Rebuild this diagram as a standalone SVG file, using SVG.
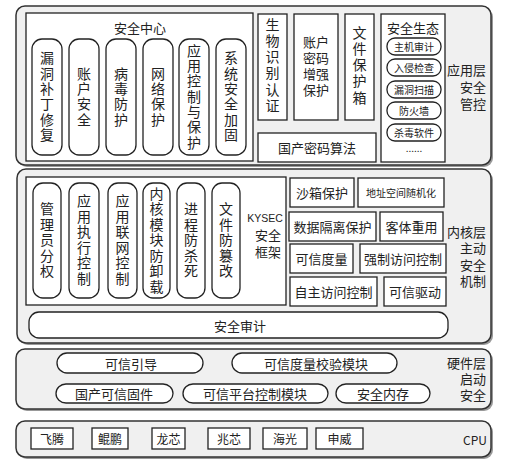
<svg xmlns="http://www.w3.org/2000/svg" width="513" height="467" viewBox="0 0 513 467">
<style>
text{font-family:"Noto Sans CJK SC","Microsoft YaHei",sans-serif;fill:#222;dominant-baseline:central}
.ml{font-family:"Liberation Sans","Noto Sans CJK SC",sans-serif}
.layer{fill:#f0f0f0;stroke:#333;stroke-width:1.5}
.shadow{fill:#999;stroke:none}
.box{fill:#fff;stroke:#222;stroke-width:1.3}
.pill{fill:#fff;stroke:#222;stroke-width:1.3}
.vt{font-size:14px;text-anchor:middle;writing-mode:vertical-rl;text-orientation:upright;letter-spacing:1.3px}
.vk{letter-spacing:1.5px}
.vb{letter-spacing:2.2px}
.t13{font-size:13px;text-anchor:middle}
.t10{font-size:10px;text-anchor:middle}
.lab{font-size:13px;text-anchor:end}
</style>
<rect width="513" height="467" fill="#fff"/>

<!-- Application layer -->
<g id="layer-app">
<rect class="shadow" x="18" y="8" width="475" height="159" rx="9"/>
<rect class="layer" x="16" y="6" width="475" height="159" rx="9"/>
<text class="lab ml" x="486" y="70">应用层</text>
<text class="lab ml" x="486" y="87">安全</text>
<text class="lab ml" x="486" y="104">管控</text>
</g>
<g id="security-center">
<rect class="box" x="26" y="13" width="227" height="148"/>
<text class="t13" x="140" y="27">安全中心</text>
</g>
<g id="n-loudong"><rect class="pill" x="32" y="39" width="30" height="116" rx="10"/><text class="vt" x="47" y="97">漏洞补丁修复</text></g>
<g id="n-zhanghu"><rect class="pill" x="69" y="39" width="30" height="116" rx="10"/><text class="vt" x="84" y="97">账户安全</text></g>
<g id="n-bingdu"><rect class="pill" x="106" y="39" width="30" height="116" rx="10"/><text class="vt" x="121" y="97">病毒防护</text></g>
<g id="n-wangluo"><rect class="pill" x="143" y="39" width="30" height="116" rx="10"/><text class="vt" x="158" y="97">网络保护</text></g>
<g id="n-yingyong"><rect class="pill" x="179" y="39" width="30" height="116" rx="10"/><text class="vt" x="194" y="97">应用控制与保护</text></g>
<g id="n-xitong"><rect class="pill" x="216" y="39" width="30" height="116" rx="10"/><text class="vt" x="231" y="97">系统安全加固</text></g>

<g id="n-shengwu"><rect class="box" x="258" y="14" width="29" height="106"/><text class="vt vb" x="272.5" y="66">生物识别认证</text></g>
<g id="n-mima"><rect class="box" x="294" y="14" width="44" height="106"/>
<text class="t13 ml" x="316" y="42">账户</text>
<text class="t13 ml" x="316" y="58">密码</text>
<text class="t13 ml" x="316" y="74">增强</text>
<text class="t13 ml" x="316" y="90">保护</text></g>
<g id="n-wenjian"><rect class="box" x="345" y="14" width="29" height="106"/><text class="vt vb" x="359.5" y="66">文件保护箱</text></g>
<g id="n-guochan-mima"><rect class="box" x="258" y="133" width="118" height="29"/>
<text class="t13" x="317" y="147.5">国产密码算法</text></g>
<g id="n-shengtai"><rect class="box" x="381" y="14" width="64" height="148"/>
<text class="t13" x="413" y="27">安全生态</text>
<rect class="pill" x="387" y="38" width="54" height="17" rx="8"/><text class="t10" x="414" y="46.5">主机审计</text>
<rect class="pill" x="387" y="59" width="54" height="17" rx="8"/><text class="t10" x="414" y="67.5">入侵检查</text>
<rect class="pill" x="387" y="81" width="54" height="17" rx="8"/><text class="t10" x="414" y="89.5">漏洞扫描</text>
<rect class="pill" x="387" y="102" width="54" height="17" rx="8"/><text class="t10" x="414" y="110.5">防火墙</text>
<rect class="pill" x="387" y="124" width="54" height="17" rx="8"/><text class="t10" x="414" y="132.5">杀毒软件</text>
<text class="t10" x="414" y="147">......</text>
</g>

<!-- Kernel layer -->
<g id="layer-kernel">
<rect class="shadow" x="19" y="171" width="474" height="174" rx="9"/>
<rect class="layer" x="17" y="169" width="474" height="174" rx="9"/>
<text class="lab ml" x="486" y="232">内核层</text>
<text class="lab ml" x="486" y="248.5">主动</text>
<text class="lab ml" x="486" y="265">安全</text>
<text class="lab ml" x="486" y="281.5">机制</text>
</g>
<g id="kysec">
<rect class="box" x="26" y="177" width="260" height="128"/>
<text class="t13 ml" x="265" y="218" style="font-size:10.5px">KYSEC</text>
<text class="t13 ml" x="268" y="235.5">安全</text>
<text class="t13 ml" x="268" y="252">框架</text>
</g>
<g id="n-guanliyuan"><rect class="pill" x="33" y="183" width="28" height="115" rx="10"/><text class="vt vk" x="47" y="240.5">管理员分权</text></g>
<g id="n-zhixing"><rect class="pill" x="69" y="183" width="30" height="115" rx="10"/><text class="vt vk" x="84" y="240.5">应用执行控制</text></g>
<g id="n-lianwang"><rect class="pill" x="108" y="183" width="29" height="115" rx="10"/><text class="vt vk" x="122.5" y="240.5">应用联网控制</text></g>
<g id="n-neihe"><rect class="pill" x="143" y="183" width="27" height="115" rx="10"/><text class="vt vk" x="156.5" y="240.5">内核模块防卸载</text></g>
<g id="n-jincheng"><rect class="pill" x="177" y="183" width="28" height="115" rx="10"/><text class="vt vk" x="191" y="240.5">进程防杀死</text></g>
<g id="n-cuangai"><rect class="pill" x="212" y="183" width="28" height="115" rx="10"/><text class="vt vk" x="226" y="240.5">文件防篡改</text></g>

<g id="n-shaxiang"><rect class="box" x="290" y="178" width="64" height="29"/><text class="t13" x="322" y="192.5">沙箱保护</text></g>
<g id="n-dizhi"><rect class="box" x="358" y="178" width="86" height="29"/><text class="t10" x="401" y="192.5">地址空间随机化</text></g>
<g id="n-geli"><rect class="box" x="289" y="212" width="87" height="29"/><text class="t13" x="332.5" y="226.5">数据隔离保护</text></g>
<g id="n-keti"><rect class="box" x="380" y="212" width="63" height="29"/><text class="t13" x="411.5" y="226.5">客体重用</text></g>
<g id="n-duliang"><rect class="box" x="290" y="244" width="63" height="29"/><text class="t13" x="321.5" y="258.5">可信度量</text></g>
<g id="n-qiangzhi"><rect class="box" x="360" y="244" width="86" height="29"/><text class="t13" x="403" y="258.5">强制访问控制</text></g>
<g id="n-zizhu"><rect class="box" x="290" y="277" width="87" height="29"/><text class="t13" x="333.5" y="291.5">自主访问控制</text></g>
<g id="n-qudong"><rect class="box" x="384" y="277" width="62" height="29"/><text class="t13" x="415" y="291.5">可信驱动</text></g>
<g id="n-shenji"><rect class="pill" x="29" y="312" width="419" height="26" rx="10"/><text class="t13" x="240" y="325">安全审计</text></g>

<!-- Hardware layer -->
<g id="layer-hw">
<rect class="shadow" x="18" y="351" width="475" height="60" rx="9"/>
<rect class="layer" x="16" y="349" width="475" height="60" rx="9"/>
<text class="lab ml" x="486" y="363">硬件层</text>
<text class="lab ml" x="486" y="379">启动</text>
<text class="lab ml" x="486" y="395">安全</text>
</g>
<g id="n-yindao"><rect class="pill" x="57" y="353" width="146" height="20" rx="10"/><text class="t13" x="131" y="363">可信引导</text></g>
<g id="n-jiaoyan"><rect class="pill" x="232" y="353" width="165" height="20" rx="10"/><text class="t13" x="316" y="363">可信度量校验模块</text></g>
<g id="n-gujian"><rect class="pill" x="56" y="384" width="117" height="19" rx="10"/><text class="t13" x="114" y="393.5">国产可信固件</text></g>
<g id="n-pingtai"><rect class="pill" x="183" y="384" width="145" height="19" rx="10"/><text class="t13" x="255" y="393.5">可信平台控制模块</text></g>
<g id="n-neicun"><rect class="pill" x="336" y="384" width="94" height="19" rx="10"/><text class="t13" x="383" y="393.5">安全内存</text></g>

<!-- CPU layer -->
<g id="layer-cpu">
<rect class="shadow" x="18" y="423" width="475" height="36" rx="9"/>
<rect class="layer" x="16" y="421" width="475" height="36" rx="9"/>
<text class="lab" x="487" y="439" style="font-size:12px">CPU</text>
</g>
<g id="cpu-feiteng"><rect class="box" x="31" y="428" width="42" height="21"/><text class="t13" x="52" y="438.5" style="font-size:12px">飞腾</text></g>
<g id="cpu-kunpeng"><rect class="box" x="92" y="428" width="36" height="21"/><text class="t13" x="110" y="438.5" style="font-size:12px">鲲鹏</text></g>
<g id="cpu-longxin"><rect class="box" x="152" y="428" width="33" height="21"/><text class="t13" x="168.5" y="438.5" style="font-size:12px">龙芯</text></g>
<g id="cpu-zhaoxin"><rect class="box" x="208" y="428" width="42" height="21"/><text class="t13" x="229" y="438.5" style="font-size:12px">兆芯</text></g>
<g id="cpu-haiguang"><rect class="box" x="263" y="428" width="44" height="21"/><text class="t13" x="285" y="438.5" style="font-size:12px">海光</text></g>
<g id="cpu-shenwei"><rect class="box" x="316" y="428" width="47" height="21"/><text class="t13" x="339.5" y="438.5" style="font-size:12px">申威</text></g>

<g id="connectors"></g>
</svg>
